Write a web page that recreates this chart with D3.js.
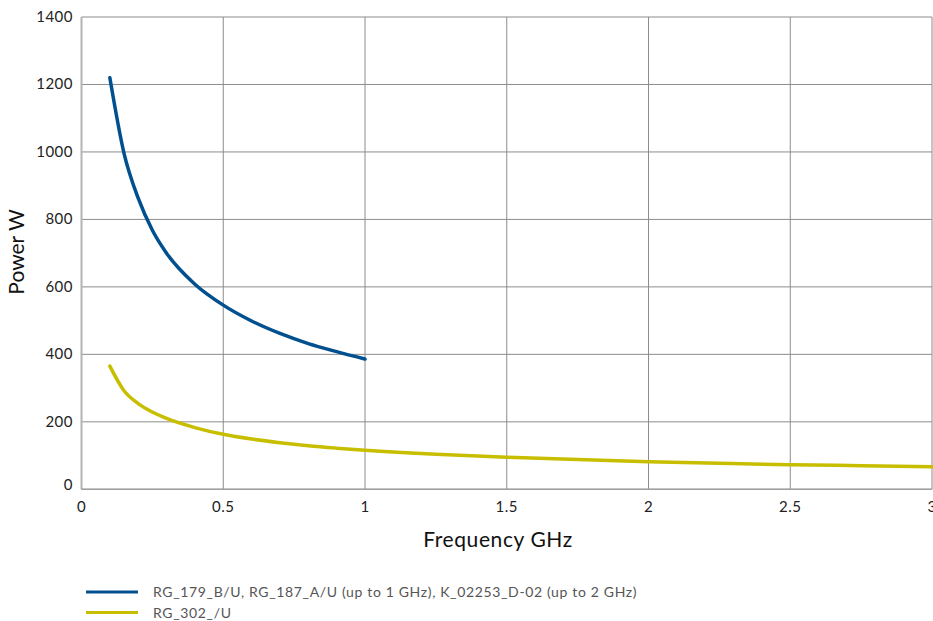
<!DOCTYPE html>
<html><head><meta charset="utf-8">
<script src="https://cdn.jsdelivr.net/npm/d3@7"></script>
<style>body{margin:0;background:#fff}svg{display:block}</style>
</head><body>
<svg id="c" width="933" height="621"></svg>
<script>
const blueFreq = [0.1,0.15,0.2,0.25,0.3,0.4,0.5,0.6,0.7,0.8,0.9,1.0];
const blueVals = [1220,996,863,768,700,608,546,499,462,432,408,386];
const yellowFreq = [0.1,0.15,0.2,0.25,0.3,0.4,0.5,0.6,0.7,0.8,0.9,1.0,1.25,1.5,1.75,2,2.25,2.5,2.75,3];
const yellowVals = [365,292,254,229,210,183,163,149,138,129,122,116,104,95,88,82,77,73,70,67];
const xTicks = [0,0.5,1,1.5,2,2.5,3];
const yTicks = [0,200,400,600,800,1000,1200,1400];
const seriesNames = ["RG_179_B/U, RG_187_A/U (up to 1 GHz), K_02253_D-02 (up to 2 GHz)","RG_302_/U"];
const colors = ["#00508f","#c8be00"];

const font = "Lato, 'Noto Sans', sans-serif";
const svg = d3.select("#c");
const x = d3.scaleLinear().domain([0,3]).range([81.5,932]);
const y = d3.scaleLinear().domain([0,1400]).range([489.3,17]);

const g = svg.append("g");
// grid
g.selectAll(".vg").data(xTicks).join("line")
  .attr("x1",d=>x(d)).attr("x2",d=>x(d)).attr("y1",y(0)).attr("y2",y(1400))
  .attr("stroke","#8c8c8c").attr("stroke-width",1);
g.selectAll(".hg").data(yTicks).join("line")
  .attr("x1",x(0)).attr("x2",x(3)).attr("y1",d=>y(d)).attr("y2",d=>y(d))
  .attr("stroke","#8c8c8c").attr("stroke-width",1);
// left and bottom axis lines
g.append("line").attr("x1",x(0)).attr("x2",x(0)).attr("y1",y(0)).attr("y2",y(1400)).attr("stroke","#b4b4b4").attr("stroke-width",2);
g.append("line").attr("x1",x(0)).attr("x2",x(3)).attr("y1",y(0)).attr("y2",y(0)).attr("stroke","#a0a0a0").attr("stroke-width",1.5);

// tick labels
g.selectAll(".yt").data(yTicks).join("text")
  .attr("x",73).attr("y",d=>y(d)+(d===0?1:5)).attr("text-anchor","end")
  .attr("font-family",font).attr("font-size",15).attr("letter-spacing",0.5).attr("fill","#222").text(d=>d);
g.selectAll(".xt").data(xTicks).join("text")
  .attr("x",d=>x(d)).attr("y",512).attr("text-anchor","middle")
  .attr("font-family",font).attr("font-size",15).attr("letter-spacing",0.5).attr("fill","#222").text(d=>d);

// titles
svg.append("text").attr("x",498).attr("y",547).attr("text-anchor","middle")
  .attr("font-family",font).attr("font-size",21).attr("letter-spacing",0.6).attr("fill","#111").text("Frequency GHz");
svg.append("text").attr("transform","translate(24,252) rotate(-90)").attr("text-anchor","middle")
  .attr("font-family",font).attr("font-size",21).attr("fill","#111").text("Power W");

// lines
const line = d3.line().x(d=>x(d[0])).y(d=>y(d[1])).curve(d3.curveMonotoneX);
const series = [d3.zip(blueFreq,blueVals), d3.zip(yellowFreq,yellowVals)];
svg.selectAll(".ser").data(series).join("path")
  .attr("d",line).attr("fill","none")
  .attr("stroke",(d,i)=>colors[i]).attr("stroke-width",3.5).attr("stroke-linecap","round");

// legend
const lg = svg.selectAll(".lg").data(seriesNames).join("g")
  .attr("transform",(d,i)=>`translate(0,${592+i*20.5})`);
lg.append("line").attr("x1",86).attr("x2",138).attr("y1",0).attr("y2",0)
  .attr("stroke",(d,i)=>colors[i]).attr("stroke-width",3);
lg.append("text").attr("x",153).attr("y",5).attr("font-family",font).attr("font-size",14)
  .attr("letter-spacing",0.65).attr("fill","#555").text(d=>d);
</script>
</body></html>
